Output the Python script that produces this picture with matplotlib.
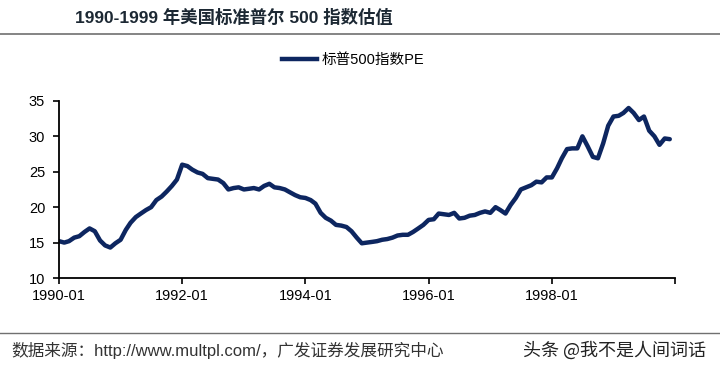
import pandas as pd
import matplotlib.pyplot as plt
from matplotlib.lines import Line2D

plt.rcParams['font.family'] = ['Liberation Sans', 'Noto Sans CJK SC', 'DejaVu Sans']

# Данные: месячные значения PE индекса S&P 500, 1990-01 .. 1999-12
months = pd.date_range('1990-01-01', periods=120, freq='MS')
pe = [
    15.2, 15.0, 15.2, 15.7, 15.9, 16.5, 17.0, 16.6, 15.3, 14.6, 14.3, 14.9,
    15.4, 16.8, 17.8, 18.6, 19.1, 19.6, 20.0, 21.0, 21.5, 22.2, 23.0, 23.9,
    26.0, 25.8, 25.3, 24.9, 24.7, 24.1, 24.0, 23.9, 23.4, 22.5, 22.7, 22.8,
    22.5, 22.6, 22.7, 22.5, 23.0, 23.3, 22.8, 22.7, 22.5, 22.1, 21.7, 21.4,
    21.3, 21.0, 20.5, 19.2, 18.5, 18.1, 17.5, 17.4, 17.2, 16.6, 15.7, 14.9,
    15.0, 15.1, 15.2, 15.4, 15.5, 15.7, 16.0, 16.1, 16.1, 16.5, 17.0, 17.5,
    18.2, 18.3, 19.1, 19.0, 18.9, 19.2, 18.4, 18.5, 18.8, 18.9, 19.2, 19.4,
    19.2, 20.0, 19.6, 19.1, 20.3, 21.3, 22.5, 22.8, 23.1, 23.6, 23.5, 24.2,
    24.2, 25.5, 26.9, 28.2, 28.3, 28.3, 30.0, 28.6, 27.1, 26.9, 29.0, 31.5,
    32.8, 32.9, 33.3, 34.0, 33.3, 32.3, 32.8, 30.8, 30.0, 28.8, 29.7, 29.6,
]
tick_dates = ['1990-01-01', '1992-01-01', '1994-01-01', '1996-01-01', '1998-01-01', '2000-01-01']
tick_labels = ['1990-01', '1992-01', '1994-01', '1996-01', '1998-01', '']
y_ticks = [10, 15, 20, 25, 30, 35]

title = '1990-1999 年美国标准普尔 500 指数估值'
series_name = '标普500指数PE'
source = '数据来源：http://www.multpl.com/，广发证券发展研究中心'

line_color = '#0d2660'

fig = plt.figure(figsize=(7.2, 3.67), dpi=100)
ax = fig.add_axes([0.082, 0.2425, 0.8555, 0.4825])

ax.plot(months, pe, color=line_color, linewidth=3.2, solid_capstyle='round', solid_joinstyle='round')

ax.set_xlim(pd.Timestamp('1990-01-01'), pd.Timestamp('2000-01-01'))
ax.set_ylim(10, 35)
ax.set_yticks(y_ticks)
ax.set_xticks(pd.to_datetime(tick_dates))
ax.set_xticklabels(tick_labels)
ax.tick_params(axis='both', labelsize=10.5, colors='black', direction='out', length=4, width=1.2)
ax.tick_params(axis='x', pad=4)
ax.tick_params(axis='y', pad=6)
for side in ['top', 'right']:
    ax.spines[side].set_visible(False)
for side in ['left', 'bottom']:
    ax.spines[side].set_linewidth(1.3)

# Легенда сверху
ax.legend([Line2D([0], [0], color=line_color, linewidth=3.2)], [series_name],
          loc='center', bbox_to_anchor=(0.478, 1.23), frameon=False,
          fontsize=10.5, handlelength=2.4, handletextpad=0.3)

# Заголовок и линии-разделители
fig.text(0.104, 0.953, title, fontsize=12.5, fontweight='bold', color='#1c2833',
         va='center', ha='left')
fig.add_artist(Line2D([0, 1], [0.908, 0.908], color='#707070', linewidth=1.2))
fig.add_artist(Line2D([0, 1], [0.092, 0.092], color='#707070', linewidth=1.0))

fig.text(0.016, 0.046, source, fontsize=12, color='#333333', va='center', ha='left')
fig.text(0.726, 0.046, '头条 @我不是人间词话', fontsize=13, color='#222222',
         va='center', ha='left', family=['Noto Sans CJK SC', 'DejaVu Sans'])

fig.savefig('out.png', dpi=100)
